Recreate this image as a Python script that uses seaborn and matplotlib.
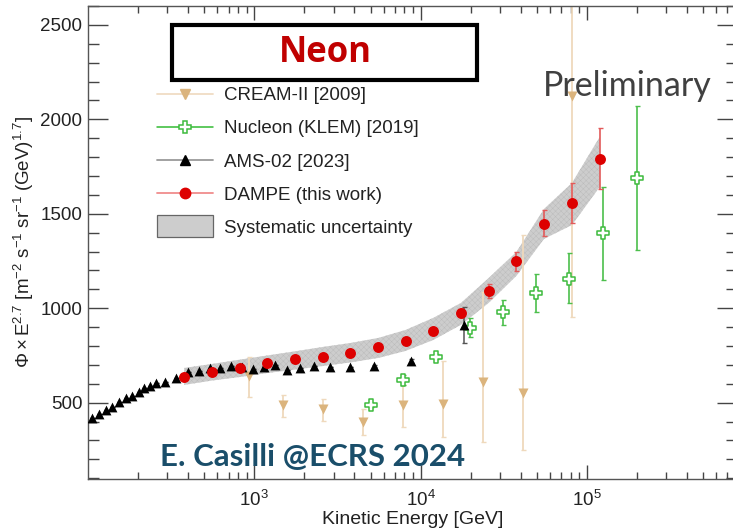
import numpy as np
import pandas as pd
import matplotlib
matplotlib.use("Agg")
import matplotlib.pyplot as plt
import seaborn as sns
from matplotlib.lines import Line2D
from matplotlib.patches import Patch, Rectangle
from matplotlib.legend_handler import HandlerPatch
from matplotlib.ticker import LogLocator, MultipleLocator, FixedLocator, NullFormatter

# ---------------- data ----------------
ams_E = [105.7, 117, 128, 139.6, 154.4, 169.4, 184, 202, 218, 237, 258, 292, 340, 397,
         467, 540, 624, 722, 843, 977, 1138, 1334, 1566, 1885, 2276, 2870, 3773, 5284,
         8710, 18230]
ams_F = [417, 439, 461, 479, 502, 523, 537, 558, 576, 588, 603, 611, 633, 660,
         670, 686, 682, 694, 691, 679, 688, 700, 673, 682, 696, 688, 688, 696,
         722, 912]
ams_lo = [417, 439, 461, 479, 502, 523, 537, 558, 576, 588, 603, 611, 633, 660,
          670, 686, 682, 694, 691, 679, 688, 700, 673, 682, 696, 688, 688, 690,
          712, 818]
ams_hi = [417, 439, 461, 479, 502, 523, 537, 558, 576, 588, 603, 611, 633, 660,
          670, 686, 682, 694, 691, 679, 688, 700, 673, 682, 696, 688, 688, 702,
          732, 1008]

dampe_E = [378.6, 556, 820, 1198, 1760, 2578, 3787, 5583, 8121, 11930, 17490,
           25680, 37700, 55300, 81500, 119700]
dampe_F = [634, 661, 685, 709, 730, 744, 762, 793, 828, 880, 974,
           1090, 1251, 1445, 1556, 1792]
dampe_lo = [630, 657, 680, 704, 725, 738, 755, 785, 818, 865, 952,
            1053, 1199, 1385, 1450, 1632]
dampe_hi = [638, 665, 690, 714, 735, 750, 769, 801, 838, 895, 996,
            1127, 1300, 1521, 1662, 1953]
sys_lo = [594, 617, 636, 657, 675, 694, 713, 737, 774, 832, 912,
          1028, 1171, 1367, 1441, 1643]
sys_hi = [684, 705, 728, 750, 772, 795, 816, 843, 885, 949, 1028,
          1160, 1298, 1526, 1664, 1908]

cream_E = [933, 1480, 2577, 4510, 7816, 13620, 23730, 41340, 81500]
cream_F = [641, 486, 468, 399, 488, 493, 607, 553, 2121]
cream_lo = [532, 426, 405, 329, 373, 320, 294, 249, 952]
cream_hi = [740, 541, 518, 465, 594, 721, 1084, 1388, 3500]

nuc_E = [5000, 7820, 12440, 19730, 31300, 49300, 78200, 124800, 199200]
nuc_F = [488, 620, 744, 897, 979, 1080, 1155, 1397, 1689]
nuc_lo = [478, 594, 730, 846, 912, 982, 1027, 1150, 1309]
nuc_hi = [498, 647, 758, 947, 1044, 1180, 1295, 1644, 2068]

x_major = [1e3, 1e4, 1e5]
legend_labels = ["CREAM-II [2009]", "Nucleon (KLEM) [2019]", "AMS-02 [2023]",
                 "DAMPE (this work)", "Systematic uncertainty"]

# ---------------- style ----------------
sns.set_theme(style="ticks")
plt.rcParams["font.family"] = ["Liberation Sans", "DejaVu Sans"]
plt.rcParams["mathtext.fontset"] = "custom"
plt.rcParams["mathtext.rm"] = "Liberation Sans"
plt.rcParams["mathtext.it"] = "Liberation Sans:italic"
plt.rcParams["mathtext.bf"] = "Liberation Sans:bold"
plt.rcParams["hatch.linewidth"] = 0.3

W, H = 733, 529
fig = plt.figure(figsize=(W / 100, H / 100), dpi=100)
fig.patch.set_facecolor("white")


def px(x, y):
    return (x / W, 1 - y / H)


L, R, T, B = 88, 737, 6, 479
ax = fig.add_axes([L / W, 1 - B / H, (R - L) / W, (B - T) / H])
ax.set_facecolor("white")
ax.set_xscale("log")
ax.set_xlim(100, 8.0e5)
ax.set_ylim(96, 2600)

# systematic band
ax.fill_between(dampe_E, sys_lo, sys_hi, facecolor="#cdcdcd", edgecolor="#bababa",
                hatch="xxxxxx", linewidth=0, zorder=1)

def yerr(f, lo, hi):
    f = np.asarray(f, float)
    return [f - np.asarray(lo, float), np.asarray(hi, float) - f]

# CREAM-II
ax.errorbar(cream_E, cream_F, yerr=yerr(cream_F, cream_lo, cream_hi), fmt="none",
            ecolor="#efd9bc", elinewidth=1.3, capsize=1.8, capthick=1.0, zorder=2)
sns.scatterplot(x=cream_E, y=cream_F, marker="v", s=52, color="#dbb47d",
                linewidth=0, ax=ax, zorder=3, legend=False)
# Nucleon
ax.errorbar(nuc_E, nuc_F, yerr=yerr(nuc_F, nuc_lo, nuc_hi), fmt="none",
            ecolor="#4cbf4c", elinewidth=1.2, capsize=1.8, capthick=1.0, zorder=2)
sns.scatterplot(x=nuc_E, y=nuc_F, marker="P", s=85, color="white",
                edgecolor="#3dbb3d", linewidth=1.1, ax=ax, zorder=3, legend=False)
# AMS-02
ax.errorbar(ams_E, ams_F, yerr=yerr(ams_F, ams_lo, ams_hi), fmt="none",
            ecolor="#555555", elinewidth=1.1, capsize=1.8, capthick=1.0, zorder=4)
sns.scatterplot(x=ams_E, y=ams_F, marker="^", s=50, color="black",
                linewidth=0, ax=ax, zorder=5, legend=False)
# DAMPE
ax.errorbar(dampe_E, dampe_F, yerr=yerr(dampe_F, dampe_lo, dampe_hi), fmt="none",
            ecolor="#e25a5a", elinewidth=1.2, capsize=1.8, capthick=1.0, zorder=6)
sns.scatterplot(x=dampe_E, y=dampe_F, marker="o", s=62, color="#dd0000",
                linewidth=0, ax=ax, zorder=7, legend=False)

# ---------------- axes, ticks ----------------
for s in ax.spines.values():
    s.set_color("#555555")
    s.set_linewidth(1.0)
ax.xaxis.set_major_locator(FixedLocator(x_major))
ax.xaxis.set_minor_locator(LogLocator(base=10, subs=np.arange(2, 10), numticks=20))
ax.xaxis.set_minor_formatter(NullFormatter())
ax.yaxis.set_major_locator(MultipleLocator(500))
ax.yaxis.set_minor_locator(MultipleLocator(100))
ax.tick_params(which="both", direction="in", top=True, right=True, colors="#444444",
               labelcolor="#222222", labelsize=13.5, width=1.0)
ax.tick_params(axis="y", which="major", length=14.5, pad=4)
ax.tick_params(axis="y", which="minor", length=8)
ax.tick_params(axis="x", which="major", length=10, pad=8)
ax.tick_params(axis="x", which="minor", length=5)

ax.set_xlabel("Kinetic Energy [GeV]", fontsize=14, color="#222222")
ax.xaxis.set_label_coords(0.5, (B - 520) / (B - T))
ax.xaxis.label.set_va("center")
ax.set_ylabel(r"$\mathregular{\Phi \times E^{2.7}}$ [m$^{-2}$ s$^{-1}$ sr$^{-1}$ (GeV)$^{1.7}$]",
              fontsize=13.5, color="#222222")
ax.yaxis.set_label_coords((24 - L) / (R - L), 0.5)
ax.yaxis.label.set_va("center")

# ---------------- legend ----------------
handles = [
    Line2D([], [], color="#f0dcc4", lw=1.3, marker="v", ms=7, mfc="#dbb47d", mec="#dbb47d"),
    Line2D([], [], color="#33bb33", lw=1.1, marker="P", ms=9, mfc="white", mec="#3dbb3d", mew=1.1),
    Line2D([], [], color="#9a9a9a", lw=1.3, marker="^", ms=7, mfc="black", mec="black"),
    Line2D([], [], color="#f08c8c", lw=1.3, marker="o", ms=7.5, mfc="#dd0000", mec="#dd0000"),
    Patch(facecolor="#cdcdcd", edgecolor="#666666", linewidth=0.9),
]

BOX_H = 22.7 * 0.72  # points


def tall_box(legend, orig_handle, xdescent, ydescent, width, height, fontsize):
    y0 = -ydescent + height / 2 - BOX_H / 2
    return Rectangle((-xdescent, y0), width, BOX_H)


fs = 13.5
fpx = fs / 0.72
leg = ax.legend(handles, legend_labels, loc="upper left",
                bbox_to_anchor=px(157.3, 87.3), bbox_transform=fig.transFigure,
                frameon=False, fontsize=fs, borderpad=0, borderaxespad=0,
                handlelength=55.4 / fpx, handletextpad=11.3 / fpx, labelspacing=0.85,
                handler_map={Patch: HandlerPatch(patch_func=tall_box)})
for t in leg.get_texts():
    t.set_color("#222222")

# ---------------- annotations ----------------
fig.add_artist(Rectangle(px(172, 80), (477 - 172) / W, (80 - 25) / H, fill=False,
                         edgecolor="black", linewidth=3.0, transform=fig.transFigure,
                         zorder=10))
fig.text(*px(325, 53), "Neon", ha="center", va="center", fontsize=25,
         fontweight="bold", color="#c00000", family="Open Sans", zorder=11)
fig.text(*px(627, 86), "Preliminary", ha="center", va="center", fontsize=24.5,
         color="#404040", family="Lato", zorder=11)
fig.text(*px(160, 457), "E. Casilli @ECRS 2024", ha="left", va="center", fontsize=22.5,
         fontweight="bold", color="#1a4e6a", family="Lato", zorder=11)

fig.savefig("out.png", dpi=100, facecolor="white")
